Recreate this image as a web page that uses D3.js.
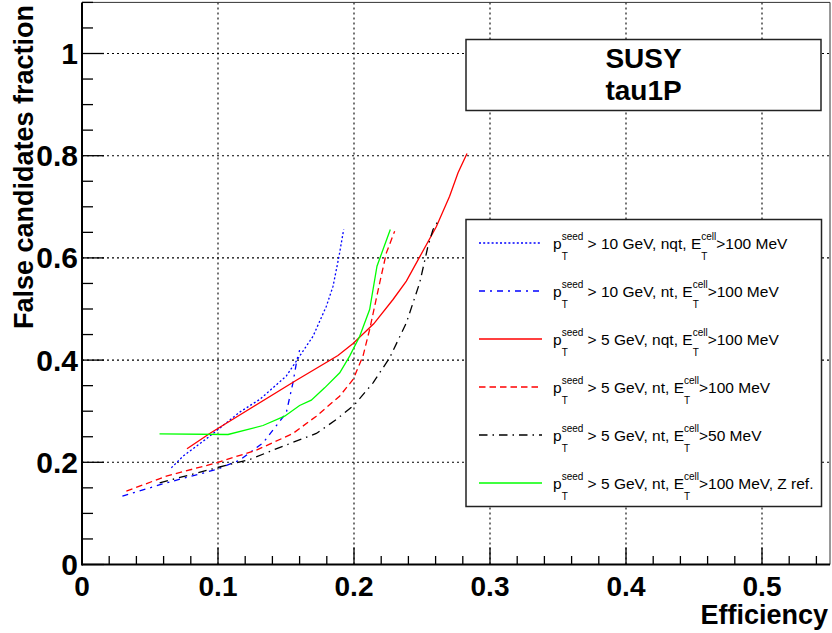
<!DOCTYPE html>
<html><head><meta charset="utf-8">
<script src="https://cdn.jsdelivr.net/npm/d3@7"></script>
<style>body{margin:0;background:#fff} text{font-family:"Liberation Sans",Arial,Helvetica,sans-serif}</style>
</head><body><svg id="c" width="832" height="633"></svg>
<script>
// ---- data ----
const xTicks = [0, 0.1, 0.2, 0.3, 0.4, 0.5];
const yTicks = [0, 0.2, 0.4, 0.6, 0.8, 1];
const xTickLabels = ["0", "0.1", "0.2", "0.3", "0.4", "0.5"];
const yTickLabels = ["0", "0.2", "0.4", "0.6", "0.8", "1"];
const titleLines = ["SUSY", "tau1P"];
const xTitle = "Efficiency";
const yTitle = "False candidates fraction";

const eff10nqt  = [0.0657, 0.0743, 0.0939, 0.1159, 0.1306, 0.1502, 0.1600, 0.1699, 0.1797, 0.1846, 0.1890, 0.1924];
const fake10nqt = [0.1892, 0.2120, 0.2511, 0.2981, 0.3229, 0.3686, 0.4077, 0.4468, 0.5055, 0.5447, 0.6034, 0.6556];

const eff10nt  = [0.0297, 0.0620, 0.0988, 0.1159, 0.1331, 0.1502, 0.1551, 0.1581, 0.1600];
const fake10nt = [0.1337, 0.1598, 0.1859, 0.2042, 0.2381, 0.2968, 0.3555, 0.4012, 0.4194];

const eff5nqt  = [0.0772, 0.0939, 0.1576, 0.1882, 0.1993, 0.2145, 0.2287, 0.2385, 0.2483, 0.2605, 0.2703, 0.2765, 0.2831];
const fake5nqt = [0.2264, 0.2564, 0.3607, 0.4090, 0.4325, 0.4710, 0.5186, 0.5545, 0.6020, 0.6608, 0.7208, 0.7665, 0.8043];

const eff5nt  = [0.0326, 0.0620, 0.0988, 0.1282, 0.1551, 0.1723, 0.1894, 0.1993, 0.2066, 0.2115, 0.2189, 0.2238, 0.2299];
const fake5nt = [0.1435, 0.1729, 0.1990, 0.2237, 0.2564, 0.2903, 0.3294, 0.3620, 0.4077, 0.4599, 0.5512, 0.6099, 0.6523];

const eff5nt50  = [0.0571, 0.0988, 0.1233, 0.1478, 0.1723, 0.1870, 0.2005, 0.2140, 0.2262, 0.2385, 0.2483, 0.2544, 0.2581, 0.2618];
const fake5nt50 = [0.1598, 0.1892, 0.2055, 0.2316, 0.2564, 0.2838, 0.3131, 0.3555, 0.4044, 0.4729, 0.5512, 0.6230, 0.6556, 0.6719];

const eff5ntZ  = [0.0570, 0.1074, 0.1331, 0.1490, 0.1600, 0.1686, 0.1784, 0.1895, 0.1968, 0.2042, 0.2115, 0.2169, 0.2267];
const fake5ntZ = [0.2557, 0.2544, 0.2720, 0.2903, 0.3112, 0.3216, 0.3457, 0.3751, 0.4077, 0.4468, 0.4990, 0.5838, 0.6556];

const seriesNames = ["10nqt", "10nt", "5nqt", "5nt", "5nt50", "5ntZ"];
const seriesColors = ["#0000ff", "#0000ff", "#ff0000", "#ff0000", "#000000", "#00ff00"];
const seriesDash = ["2 2.2", "6 5 2 5", null, "6.5 4", "8.5 5 1.5 5", null];
const legendCut = ["> 10 GeV, nqt, ", "> 10 GeV, nt, ", "> 5 GeV, nqt, ", "> 5 GeV, nt, ", "> 5 GeV, nt, ", "> 5 GeV, nt, "];
const legendTail = [">100 MeV", ">100 MeV", ">100 MeV", ">100 MeV", ">50 MeV", ">100 MeV, Z ref."];

const seriesX = [eff10nqt, eff10nt, eff5nqt, eff5nt, eff5nt50, eff5ntZ];
const seriesY = [fake10nqt, fake10nt, fake5nqt, fake5nt, fake5nt50, fake5ntZ];

// ---- drawing ----
const svg = d3.select("#c");
const L = 82, R = 830, T = 2.4, B = 564.5;
const x = d3.scaleLinear().domain([0, 0.55]).range([L, R]);
const y = d3.scaleLinear().domain([0, 1.1]).range([B, T]);

svg.append("rect").attr("width", 832).attr("height", 633).attr("fill", "#fff");

// grid
const grid = svg.append("g").attr("stroke", "#000").attr("stroke-width", 1.1).attr("stroke-dasharray", "2 3");
grid.selectAll(".gx").data(xTicks.filter(d => d > 0)).join("line")
  .attr("x1", d => x(d)).attr("x2", d => x(d)).attr("y1", B).attr("y2", T);
grid.selectAll(".gy").data(yTicks.filter(d => d > 0)).join("line")
  .attr("y1", d => y(d)).attr("y2", d => y(d)).attr("x1", L).attr("x2", R);

// frame (top/right)
svg.append("path").attr("d", `M${L},${T}H${R}V${B}`).attr("fill", "none").attr("stroke", "#333").attr("stroke-width", 1);

// curves
const line = d3.line().x(d => x(d[0])).y(d => y(d[1]));
seriesNames.forEach((n, i) => {
  const pts = seriesX[i].map((v, j) => [v, seriesY[i][j]]);
  svg.append("path").datum(pts).attr("d", line).attr("fill", "none")
    .attr("stroke", seriesColors[i]).attr("stroke-width", 1.3)
    .attr("stroke-dasharray", seriesDash[i]);
});

// axes
const gx = svg.append("g").attr("transform", `translate(0,${B})`);
gx.append("line").attr("x1", L).attr("x2", R).attr("stroke", "#000").attr("stroke-width", 2);
gx.selectAll(".mt").data(d3.range(0, 28).map(i => i * 0.02)).join("line")
  .attr("x1", d => x(d)).attr("x2", d => x(d)).attr("y1", 0)
  .attr("y2", (d, i) => i % 5 === 0 ? -17 : -8.5).attr("stroke", "#000").attr("stroke-width", 1.3);
gx.selectAll(".tl").data(xTicks).join("text")
  .attr("x", d => x(d)).attr("y", 31).attr("text-anchor", "middle")
  .attr("font-size", 28).attr("font-weight", "bold").text((d, i) => xTickLabels[i]);

const gy = svg.append("g").attr("transform", `translate(${L},0)`);
gy.append("line").attr("y1", B + 1).attr("y2", T).attr("stroke", "#000").attr("stroke-width", 2);
gy.selectAll(".mt").data(d3.range(0, 23).map(i => i * 0.05)).join("line")
  .attr("y1", d => y(d)).attr("y2", d => y(d)).attr("x1", 0)
  .attr("x2", (d, i) => i % 4 === 0 ? 22 : 11).attr("stroke", "#000").attr("stroke-width", 1.3);
gy.selectAll(".tl").data(yTicks).join("text")
  .attr("x", -4).attr("y", d => y(d) + 10.5).attr("text-anchor", "end")
  .attr("font-size", 30).attr("font-weight", "bold").text((d, i) => yTickLabels[i]);

// axis titles
svg.append("text").attr("x", 828).attr("y", 624).attr("text-anchor", "end")
  .attr("font-size", 27).attr("font-weight", "bold").text(xTitle);
svg.append("text").attr("transform", "translate(33,5) rotate(-90)").attr("text-anchor", "end")
  .attr("font-size", 27).attr("font-weight", "bold").text(yTitle);

// title box
svg.append("rect").attr("x", 466).attr("y", 39.5).attr("width", 355).attr("height", 71)
  .attr("fill", "#fff").attr("stroke", "#222").attr("stroke-width", 1.5);
svg.selectAll(".tt").data(titleLines).join("text")
  .attr("x", 643.5).attr("y", (d, i) => 68 + i * 32).attr("text-anchor", "middle")
  .attr("font-size", 28).attr("font-weight", "bold").text(d => d);

// legend
svg.append("rect").attr("x", 466).attr("y", 219.5).attr("width", 355.5).attr("height", 287)
  .attr("fill", "#fff").attr("stroke", "#222").attr("stroke-width", 1.5);
const legY = d3.scalePoint().domain(seriesNames).range([243, 483]);
const MF = 15.5, SF = 10;
seriesNames.forEach((n, i) => {
  const yy = legY(n);
  svg.append("line").attr("x1", 479).attr("x2", 542).attr("y1", yy).attr("y2", yy)
    .attr("stroke", seriesColors[i]).attr("stroke-width", 1.3).attr("stroke-dasharray", seriesDash[i]);
  const g = svg.append("g");
  let cx = 553;
  const base = yy + 5.5;
  function put(t, size, dy) {
    const el = g.append("text").attr("x", cx).attr("y", base + dy).attr("font-size", size)
      .style("white-space", "pre").attr("fill", "#000").text(t);
    return el.node().getComputedTextLength();
  }
  function main(t) { cx += put(t, MF, 0); }
  function stack(sup, sub) {
    const w1 = put(sup, SF, -8.5);
    const w2 = put(sub, SF, 11);
    cx += Math.max(w1, w2);
  }
  main("p"); stack("seed", "T"); main(" " + legendCut[i].trimStart()); main("E"); stack("cell", "T"); main(legendTail[i]);
});
</script></body></html>
